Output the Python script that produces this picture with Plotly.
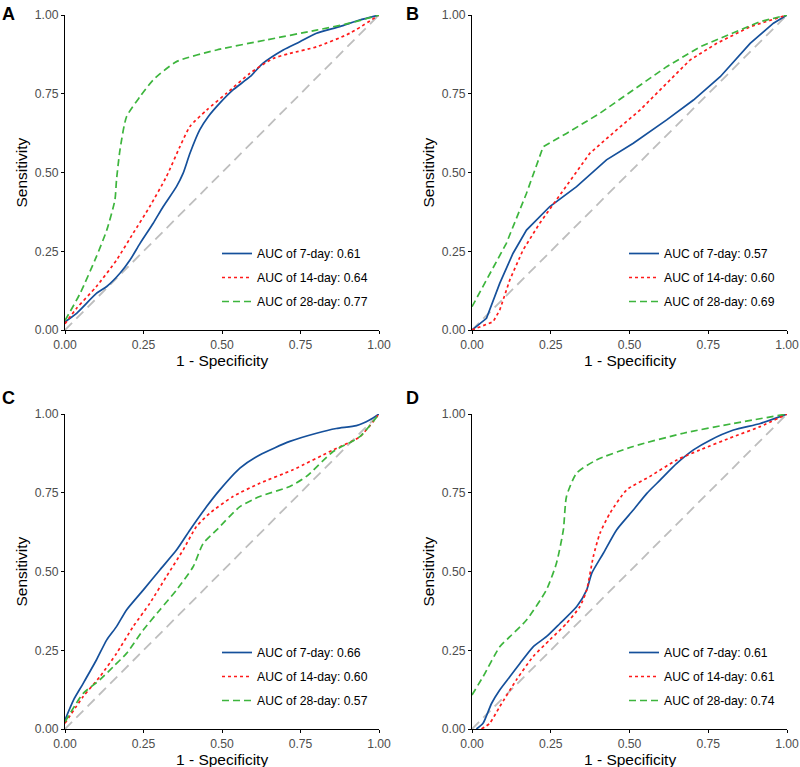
import plotly.graph_objects as go

# ---------------- data ----------------
panels = ["A", "B", "C", "D"]
series_names = ["7-day", "14-day", "28-day"]
auc = {
    "A": [0.61, 0.64, 0.77],
    "B": [0.57, 0.60, 0.69],
    "C": [0.66, 0.60, 0.57],
    "D": [0.61, 0.61, 0.74],
}

A7_x = [0, 0.037, 0.10, 0.133, 0.175, 0.207, 0.239, 0.281, 0.313, 0.355, 0.376, 0.398, 0.429, 0.456, 0.493, 0.535, 0.589, 0.631, 0.695, 0.748, 0.801, 0.875, 0.938, 1]
A7_y = [0.026, 0.053, 0.116, 0.138, 0.18, 0.222, 0.275, 0.339, 0.392, 0.455, 0.497, 0.561, 0.635, 0.677, 0.72, 0.762, 0.804, 0.847, 0.889, 0.915, 0.942, 0.963, 0.984, 1]
A14_x = [0, 0.037, 0.10, 0.164, 0.217, 0.27, 0.323, 0.366, 0.398, 0.451, 0.514, 0.589, 0.663, 0.716, 0.801, 0.907, 1]
A14_y = [0.02, 0.069, 0.138, 0.222, 0.307, 0.392, 0.487, 0.582, 0.646, 0.698, 0.751, 0.815, 0.862, 0.878, 0.899, 0.942, 1]
A28_x = [0, 0.048, 0.10, 0.133, 0.159, 0.164, 0.175, 0.196, 0.239, 0.281, 0.355, 0.483, 0.642, 0.801, 0.907, 1]
A28_y = [0.03, 0.116, 0.233, 0.317, 0.413, 0.476, 0.571, 0.677, 0.741, 0.794, 0.852, 0.889, 0.921, 0.952, 0.974, 1]

B7_x = [0, 0.046, 0.088, 0.13, 0.173, 0.247, 0.332, 0.427, 0.512, 0.618, 0.703, 0.788, 0.883, 0.957, 1]
B7_y = [0, 0.037, 0.148, 0.243, 0.317, 0.392, 0.455, 0.54, 0.593, 0.667, 0.73, 0.804, 0.91, 0.974, 1]
B14_x = [0, 0.067, 0.088, 0.12, 0.162, 0.215, 0.268, 0.321, 0.374, 0.459, 0.533, 0.618, 0.692, 0.777, 0.883, 1]
B14_y = [0, 0.026, 0.063, 0.159, 0.254, 0.339, 0.413, 0.487, 0.561, 0.635, 0.698, 0.783, 0.857, 0.91, 0.963, 1]
B28_x = [0, 0.046, 0.109, 0.173, 0.226, 0.3, 0.406, 0.512, 0.618, 0.724, 0.83, 0.915, 1]
B28_y = [0.074, 0.159, 0.275, 0.434, 0.582, 0.624, 0.688, 0.762, 0.836, 0.899, 0.942, 0.979, 1]

C7_x = [0, 0.027, 0.058, 0.10, 0.133, 0.164, 0.196, 0.249, 0.302, 0.355, 0.398, 0.451, 0.493, 0.557, 0.62, 0.716, 0.801, 0.864, 0.928, 0.97, 1]
C7_y = [0.029, 0.092, 0.145, 0.219, 0.283, 0.325, 0.378, 0.441, 0.505, 0.568, 0.632, 0.706, 0.759, 0.828, 0.87, 0.913, 0.939, 0.954, 0.963, 0.981, 1]
C14_x = [0, 0.058, 0.111, 0.164, 0.217, 0.27, 0.323, 0.376, 0.418, 0.461, 0.535, 0.62, 0.726, 0.854, 0.939, 1]
C14_y = [0.018, 0.103, 0.166, 0.24, 0.325, 0.399, 0.484, 0.568, 0.642, 0.685, 0.738, 0.78, 0.823, 0.886, 0.928, 1]
C28_x = [0, 0.058, 0.111, 0.154, 0.196, 0.249, 0.302, 0.355, 0.408, 0.44, 0.483, 0.557, 0.62, 0.716, 0.769, 0.854, 0.939, 1]
C28_y = [0.023, 0.113, 0.156, 0.198, 0.24, 0.314, 0.378, 0.441, 0.515, 0.589, 0.632, 0.706, 0.738, 0.77, 0.802, 0.881, 0.928, 1]

D7_x = [0.014, 0.035, 0.062, 0.088, 0.12, 0.152, 0.194, 0.236, 0.279, 0.332, 0.364, 0.38, 0.417, 0.459, 0.512, 0.555, 0.597, 0.65, 0.703, 0.756, 0.83, 0.915, 1]
D7_y = [0, 0.018, 0.081, 0.124, 0.166, 0.208, 0.261, 0.293, 0.335, 0.388, 0.441, 0.494, 0.558, 0.632, 0.695, 0.748, 0.79, 0.843, 0.886, 0.917, 0.949, 0.97, 1]
D14_x = [0.03, 0.056, 0.088, 0.141, 0.194, 0.247, 0.3, 0.342, 0.364, 0.385, 0.406, 0.438, 0.491, 0.565, 0.65, 0.724, 0.83, 0.915, 1]
D14_y = [0, 0.018, 0.071, 0.156, 0.23, 0.283, 0.335, 0.388, 0.441, 0.547, 0.621, 0.685, 0.759, 0.802, 0.854, 0.886, 0.928, 0.96, 1]
D28_x = [0, 0.035, 0.088, 0.12, 0.173, 0.236, 0.268, 0.29, 0.3, 0.332, 0.395, 0.512, 0.671, 0.83, 1]
D28_y = [0.108, 0.166, 0.261, 0.293, 0.346, 0.441, 0.526, 0.632, 0.738, 0.812, 0.854, 0.897, 0.939, 0.97, 1]

curves = {
    "A": [(A7_x, A7_y), (A14_x, A14_y), (A28_x, A28_y)],
    "B": [(B7_x, B7_y), (B14_x, B14_y), (B28_x, B28_y)],
    "C": [(C7_x, C7_y), (C14_x, C14_y), (C28_x, C28_y)],
    "D": [(D7_x, D7_y), (D14_x, D14_y), (D28_x, D28_y)],
}
diag_x = [0, 1]
diag_y = [0, 1]
tick_vals = [0, 0.25, 0.5, 0.75, 1.0]
tick_text = ["0.00", "0.25", "0.50", "0.75", "1.00"]
x_title = "1 - Specificity"
y_title = "Sensitivity"

# ---------------- styling ----------------
W, H = 800, 767
colors = ["#15509B", "#FF1A1A", "#3DB53D"]
dashes = ["solid", "3px,3px", "7px,4px"]
FONT = "Liberation Sans, Arial, sans-serif"

# pixel boxes (left, right, top, bottom)
boxes = {
    "A": (65, 379, 15, 330),
    "B": (472, 787, 15, 330),
    "C": (65, 379, 414, 729),
    "D": (472, 787, 414, 729),
}
label_pos = {"A": (0, 2), "B": (404, 2), "C": (0, 386), "D": (404, 386)}
ytitle_x = {"A": 21, "B": 428, "C": 21, "D": 428}
shape_mode = {"A": "spline", "B": "linear", "C": "spline", "D": "spline"}

fig = go.Figure()
layout = dict(
    width=W, height=H, margin=dict(l=0, r=0, t=0, b=0, autoexpand=False),
    paper_bgcolor="white", plot_bgcolor="white",
    font=dict(family=FONT, color="black"),
    annotations=[],
)

for i, p in enumerate(panels):
    n = i + 1
    xa = "x" if n == 1 else f"x{n}"
    ya = "y" if n == 1 else f"y{n}"
    leg = "legend" if n == 1 else f"legend{n}"
    l, r, t, b = boxes[p]
    fig.add_trace(go.Scatter(
        x=diag_x, y=diag_y, mode="lines", xaxis=xa, yaxis=ya,
        line=dict(color="#BEBEBE", width=1.8, dash="10px,6px"),
        showlegend=False, hoverinfo="skip"))
    for k, (cx, cy) in enumerate(curves[p]):
        line = dict(color=colors[k], width=1.7, dash=dashes[k], shape=shape_mode[p])
        if shape_mode[p] == "spline":
            line["smoothing"] = 0.6
        fig.add_trace(go.Scatter(
            x=cx, y=cy, mode="lines", xaxis=xa, yaxis=ya,
            name=f"AUC of {series_names[k]}: {auc[p][k]:.2f}",
            line=line, legend=leg, legendgroup=f"{p}{k}"))
    axis_common = dict(
        range=[0, 1], tickvals=tick_vals, ticktext=tick_text,
        showgrid=False, zeroline=False, showline=True, linecolor="black", linewidth=1.1,
        ticks="outside", ticklen=3, tickcolor="black", tickwidth=1,
        tickfont=dict(size=12.2, color="#4D4D4D", family=FONT),
        fixedrange=True, automargin=False,
    )
    layout["xaxis" if n == 1 else f"xaxis{n}"] = dict(
        axis_common, domain=[l / W, r / W], anchor=ya)
    layout["yaxis" if n == 1 else f"yaxis{n}"] = dict(
        axis_common, domain=[1 - b / H, 1 - t / H], anchor=xa)
    layout[leg] = dict(
        x=(l + 152) / W, y=1 - (t + 224) / H, xanchor="left", yanchor="top",
        bgcolor="rgba(0,0,0,0)", font=dict(size=12.2, color="black", family=FONT),
        itemwidth=30, tracegroupgap=5, traceorder="grouped")
    lx, ly = label_pos[p]
    layout["annotations"].append(dict(
        text=f"<b>{p}</b>", x=lx / W, y=1 - ly / H, xref="paper", yref="paper",
        xanchor="left", yanchor="top", showarrow=False,
        font=dict(size=18, color="black", family=FONT)))
    layout["annotations"].append(dict(
        text=x_title, x=(l + r) / 2 / W, y=1 - (b + 30.5) / H, xref="paper", yref="paper",
        xanchor="center", yanchor="middle", showarrow=False,
        font=dict(size=15.5, color="black", family=FONT)))
    layout["annotations"].append(dict(
        text=y_title, x=ytitle_x[p] / W, y=1 - (t + b) / 2 / H, xref="paper", yref="paper",
        xanchor="center", yanchor="middle", showarrow=False, textangle=-90,
        font=dict(size=15.5, color="black", family=FONT)))

fig.update_layout(**layout)
fig.write_html("out.html", post_script="document.body.style.margin='0';",
               config={"displayModeBar": False})
